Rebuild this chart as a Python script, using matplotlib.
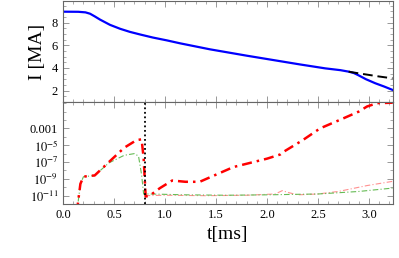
import matplotlib
matplotlib.use("Agg")
import matplotlib.pyplot as plt
import numpy as np
from matplotlib.ticker import MultipleLocator, FixedLocator, FixedFormatter, LogLocator, NullFormatter

plt.rcParams['font.family'] = ['Liberation Serif', 'DejaVu Serif']
plt.rcParams['mathtext.fontset'] = 'stix'

# plasma current I [MA]
t_I = [0.0, 0.15, 0.22, 0.265, 0.31, 0.363, 0.46, 0.56, 0.655, 0.755, 0.88, 1.017, 1.147, 1.44, 1.8, 2.32, 2.57, 2.72, 2.80, 2.85, 2.89, 2.97, 3.06, 3.15, 3.23]
I_blue = [8.96, 8.95, 8.9, 8.78, 8.55, 8.26, 7.8, 7.45, 7.18, 6.95, 6.68, 6.43, 6.17, 5.64, 5.08, 4.31, 3.96, 3.8, 3.67, 3.55, 3.38, 3.0, 2.65, 2.35, 2.06]
t_dash = [2.80, 2.9, 3.0, 3.1, 3.23]
I_dash = [3.67, 3.52, 3.38, 3.24, 3.08]

# log10 of lower-panel quantities
t_red = [0.135, 0.15, 0.17, 0.2, 0.25, 0.31, 0.45, 0.6, 0.72, 0.77, 0.79, 0.81, 0.85, 0.95, 1.07, 1.2, 1.34, 1.67, 2.0, 2.13, 2.16, 2.35, 2.52, 2.75, 2.9, 2.98, 3.08, 3.23]
lg_red = [-13.0, -11.5, -9.6, -8.75, -8.65, -8.6, -7.0, -5.3, -4.4, -4.3, -6.5, -11.1, -11.0, -10.1, -9.2, -9.35, -9.35, -7.6, -6.6, -6.1, -5.8, -4.4, -3.0, -1.8, -1.0, -0.4, 0.0, 0.05]
t_grn = [0.135, 0.17, 0.2, 0.31, 0.45, 0.6, 0.7, 0.74, 0.77, 0.79, 0.85, 1.2, 1.6, 2.0, 2.5, 2.9, 3.23]
lg_grn = [-13.0, -9.6, -8.75, -8.6, -7.1, -6.2, -6.0, -6.3, -8.5, -10.8, -10.8, -10.9, -10.95, -10.9, -10.8, -10.5, -10.1]
t_pink = [0.8, 1.0, 1.4, 1.8, 2.08, 2.15, 2.2, 2.3, 2.5, 2.7, 2.98, 3.23]
lg_pink = [-11.0, -10.95, -11.0, -10.95, -10.8, -10.4, -10.6, -10.9, -10.8, -10.5, -9.8, -9.3]
t_disr = 0.8

fig = plt.figure(figsize=(3.99, 2.58), dpi=100)
ax1 = fig.add_axes([0.158, 0.605, 0.827, 0.391])
ax2 = fig.add_axes([0.158, 0.209, 0.827, 0.396], sharex=ax1)

ax1.plot(t_I, I_blue, color='#0000ff', lw=1.6)
ax1.plot(t_dash, I_dash, color='black', lw=1.4, dashes=(5, 2.5))
ax1.set_ylim(1, 9.9)
ax1.set_yticks([2, 4, 6, 8])
ax1.yaxis.set_minor_locator(MultipleLocator(0.5))
ax1.set_ylabel('I [MA]', fontsize=14, labelpad=4)
plt.setp(ax1.get_xticklabels(), visible=False)

ax2.plot(t_pink, 10 ** np.array(lg_pink), color='#ff9090', lw=0.8, dashes=(5, 2, 1, 2))
ax2.plot(t_grn, 10 ** np.array(lg_grn), color='#66bb55', lw=0.8, dashes=(5, 2, 1, 2))
ax2.plot(t_red, 10 ** np.array(lg_red), color='#ff0000', lw=1.8, dashes=(4, 2, 1, 2))
ax2.axvline(t_disr, color='black', lw=1.3, ls=(0, (1, 1.5)), ymax=1.0)
ax2.set_yscale('log')
ax2.set_ylim(1e-12, 1.4)
ax2.yaxis.set_major_locator(FixedLocator([1e-11, 1e-9, 1e-7, 1e-5, 1e-3]))
ax2.yaxis.set_major_formatter(FixedFormatter([r'$10^{-11}$', r'$10^{-9}$', r'$10^{-7}$', r'$10^{-5}$', '0.001']))
ax2.yaxis.set_minor_locator(LogLocator(base=10, numticks=20))
ax2.yaxis.set_minor_formatter(NullFormatter())
ax2.set_xlim(0, 3.235)
ax2.xaxis.set_major_locator(MultipleLocator(0.5))
ax2.xaxis.set_minor_locator(MultipleLocator(0.1))
ax2.set_xticks([0, 0.5, 1.0, 1.5, 2.0, 2.5, 3.0])
ax2.set_xticklabels(['0.0', '0.5', '1.0', '1.5', '2.0', '2.5', '3.0'])
ax2.set_xlabel('t[ms]', fontsize=14, labelpad=4)

for ax in (ax1, ax2):
    ax.tick_params(which='both', direction='in', top=True, right=True, color='#888888', labelsize=9)
    ax.tick_params(which='major', length=4, width=0.6)
    ax.tick_params(which='minor', length=2, width=0.5)
    for s in ax.spines.values():
        s.set_color('#666666')
        s.set_linewidth(0.8)

fig.savefig('out.png', dpi=100)
